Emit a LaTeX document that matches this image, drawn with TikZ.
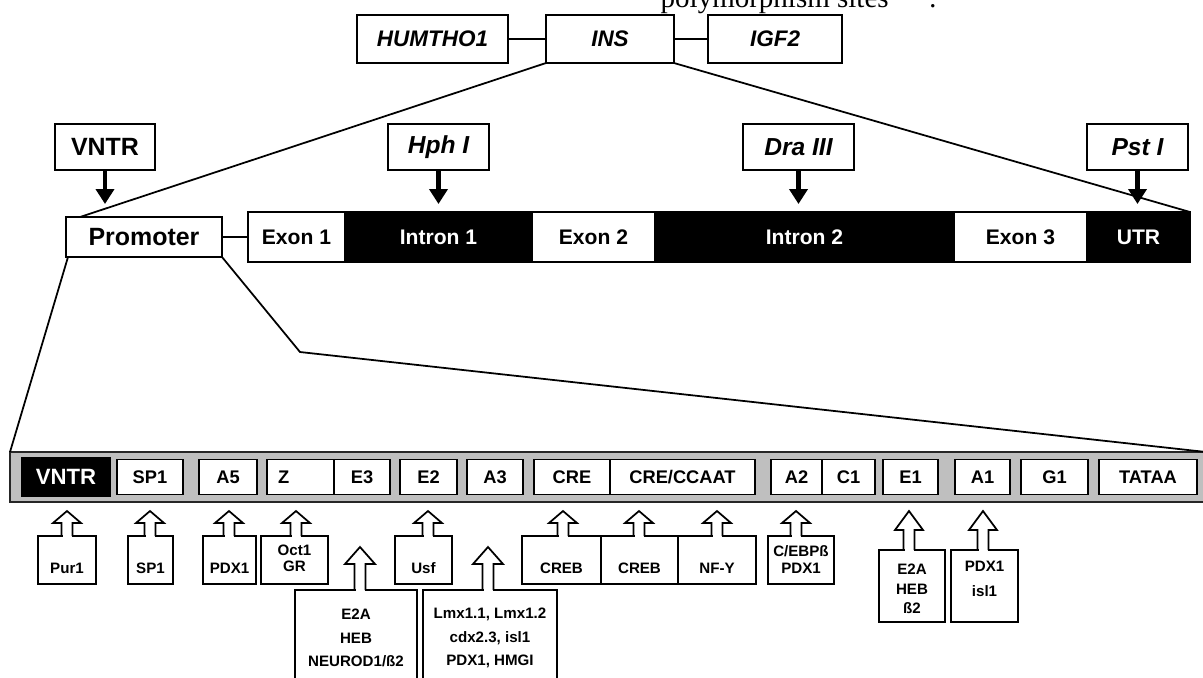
\documentclass[tikz,border=0pt]{standalone}
\usepackage{fontspec}
\setmainfont{Liberation Sans}
\newfontfamily\polyfont{Liberation Serif}
\usetikzlibrary{arrows.meta, positioning, calc}
\tikzset{
  gene box/.style={
    rectangle, draw=black, line width=0.5pt, fill=white,
    minimum height=0.48cm, inner sep=0pt, outer sep=0pt,
    font=\fontsize{6.4}{7}\selectfont\bfseries\itshape
  },
  site box/.style={
    gene box, minimum height=0.46cm,
    font=\fontsize{7.1}{8}\selectfont\bfseries
  },
  enzyme box/.style={
    site box, font=\fontsize{7}{8}\selectfont\bfseries\itshape
  },
  site arrow/.style={
    -{Triangle[width=1.8mm,length=1.5mm]}, line width=1.4pt
  },
  link/.style={
    line width=0.5pt, draw=black
  },
  tf line/.style={
    line width=0.5pt, draw=black, line join=miter
  }
}
% open block arrow on top of a factor box: box, x, shaft, head, head half width
\newcommand{\tfarrow}[5]{%
  \coordinate (aw) at (#2,0 |- #1.north);
  \fill[white] ([xshift=-0.045cm,yshift=-0.03cm]aw) rectangle ([xshift=0.045cm,yshift=0.03cm]aw);
  \draw[tf line] ([xshift=-0.055cm]aw) -- ++(0,#3) -- ++(0.055-#5,0) -- ++(#5,#4)
    -- ++(#5,-#4) -- ++(0.055-#5,0) -- ++(0,-#3);
}

\begin{document}
\begin{tikzpicture}[
  exon/.style={rectangle, draw=black, line width=0.5pt, fill=white,
    minimum height=0.50cm, inner sep=0pt, outer sep=0pt,
    font=\fontsize{6}{7}\selectfont\bfseries},
  intron/.style={exon, fill=black, text=white},
  el/.style={rectangle, draw=black, line width=0.5pt, fill=white,
    minimum height=0.35cm, inner sep=0pt, outer sep=0pt,
    font=\fontsize{5.2}{6}\selectfont\bfseries},
  tfbox/.style={rectangle, draw=black, line width=0.5pt, fill=white,
    inner sep=0pt, outer sep=0pt},
  tflab/.style={font=\fontsize{4.3}{4.6}\selectfont\bfseries, align=center, inner sep=0pt},
]
\useasboundingbox (0,0) rectangle (12.03,-6.77);

% ====== caption line (cut at the top) ======
\node[font=\polyfont\fontsize{8.25}{9}\selectfont, anchor=base west, inner sep=0pt] (poly) at (6.60,-0.07) {polymorphism sites};
\node[font=\polyfont\fontsize{8.25}{9}\selectfont, anchor=base, inner sep=0pt] (polycol) at (9.33,-0.07) {:};

% ====== chromosome 11p15.5 ======
\node[gene box, minimum width=1.51cm] (humtho) at (4.325,-0.39) {HUMTHO1};
\node[gene box, minimum width=1.28cm] (ins) at (6.10,-0.39) {INS};
\node[gene box, minimum width=1.34cm] (igf) at (7.75,-0.39) {IGF2};
\draw[link] (humtho) -- (ins);
\draw[link] (ins) -- (igf);

% ====== INS gene ======
\node[exon, minimum width=0.97cm, anchor=west] (ex1) at (2.48,-2.37) {Exon 1};
\node[intron, minimum width=1.87cm, anchor=west] (in1) at (ex1.east) {Intron 1};
\node[exon, minimum width=1.23cm, anchor=west] (ex2) at (in1.east) {Exon 2};
\node[intron, minimum width=2.99cm, anchor=west] (in2) at (ex2.east) {Intron 2};
\node[exon, minimum width=1.33cm, anchor=west] (ex3) at (in2.east) {Exon 3};
\node[intron, minimum width=1.03cm, anchor=west] (utr) at (ex3.east) {UTR};

\node[site box, minimum width=1.56cm, minimum height=0.40cm] (prom) at (1.44,-2.37) {Promoter};
\draw[link] (prom) -- (ex1);

% -- polymorphism sites --
\node[site box, minimum width=1.00cm] (vntrs) at (1.05,-1.47) {VNTR};
\node[enzyme box, minimum width=1.01cm] (hph) at (4.385,-1.47) {Hph I};
\node[enzyme box, minimum width=1.11cm] (dra) at (7.985,-1.47) {Dra III};
\node[enzyme box, minimum width=1.01cm] (pst) at (11.375,-1.47) {Pst I};
\draw[site arrow] (vntrs.south) -- ++(0,-0.34);
\draw[site arrow] (hph.south) -- ++(0,-0.34);
\draw[site arrow] (dra.south) -- ++(0,-0.34);
\draw[site arrow] (pst.south) -- ++(0,-0.34);

% -- zoom lines --
\draw[link] (ins.south west) -- ($(prom.north west)+(0.14,0)$);
\draw[link] (ins.south east) -- (utr.north east);

% ====== promoter region ======
\node[rectangle, draw=black!85, line width=0.6pt, fill=black!25, minimum width=11.96cm,
  minimum height=0.50cm, inner sep=0pt, outer sep=0pt] (pbar) at (6.08,-4.77) {};
\coordinate (knee) at (3.00,-3.52);
\draw[link] ($(prom.south west)+(0.02,0)$) -- (pbar.north west);
\draw[link] (prom.south east) -- (knee) -- (pbar.north east);

\node[el, fill=black, text=white, minimum width=0.88cm, minimum height=0.39cm,
  font=\fontsize{6.3}{7}\selectfont\bfseries] (bvntr) at (0.66,-4.77) {VNTR};
\node[el, minimum width=0.66cm] (bsp) at (1.50,-4.77) {SP1};
\node[el, minimum width=0.58cm] (ba5) at (2.28,-4.77) {A5};
\node[el, text width=0.45cm, inner xsep=0.11cm, align=left] (bz) at (3.005,-4.77) {Z};
\node[el, minimum width=0.56cm] (be3) at (3.62,-4.77) {E3};
\node[el, minimum width=0.57cm] (be2) at (4.285,-4.77) {E2};
\node[el, minimum width=0.56cm] (ba3) at (4.95,-4.77) {A3};
\node[el, minimum width=0.76cm] (bcre) at (5.72,-4.77) {CRE};
\node[el, minimum width=1.45cm] (bcca) at (6.825,-4.77) {CRE/CCAAT};
\node[el, minimum width=0.51cm] (ba2) at (7.965,-4.77) {A2};
\node[el, minimum width=0.53cm] (bc1) at (8.485,-4.77) {C1};
\node[el, minimum width=0.55cm] (be1) at (9.105,-4.77) {E1};
\node[el, minimum width=0.55cm] (ba1) at (9.825,-4.77) {A1};
\node[el, minimum width=0.67cm] (bg1) at (10.545,-4.77) {G1};
\node[el, minimum width=0.98cm] (btata) at (11.48,-4.77) {TATAA};

% ====== binding factors ======
\node[tfbox, minimum width=0.58cm, minimum height=0.48cm] (tfpur) at (0.67,-5.60) {};
\node[tfbox, minimum width=0.45cm, minimum height=0.48cm] (tfsp) at (1.505,-5.60) {};
\node[tfbox, minimum width=0.53cm, minimum height=0.48cm] (tfpdx) at (2.295,-5.60) {};
\node[tfbox, minimum width=0.67cm, minimum height=0.48cm] (tfoct) at (2.945,-5.60) {};
\node[tfbox, minimum width=0.57cm, minimum height=0.48cm] (tfusf) at (4.235,-5.60) {};
\node[tfbox, minimum width=0.79cm, minimum height=0.48cm] (tfcreba) at (5.615,-5.60) {};
\node[tfbox, minimum width=0.77cm, minimum height=0.48cm] (tfcrebb) at (6.395,-5.60) {};
\node[tfbox, minimum width=0.78cm, minimum height=0.48cm] (tfnfy) at (7.17,-5.60) {};
\node[tfbox, minimum width=0.66cm, minimum height=0.48cm] (tfcebp) at (8.01,-5.60) {};
\node[tfbox, minimum width=0.66cm, minimum height=0.72cm] (tfeone) at (9.12,-5.86) {};
\node[tfbox, minimum width=0.67cm, minimum height=0.72cm] (tfaone) at (9.845,-5.86) {};
\node[tfbox, minimum width=1.22cm, minimum height=1.05cm] (tfethree) at (3.56,-6.425) {};
\node[tfbox, minimum width=1.34cm, minimum height=1.05cm] (tfathree) at (4.90,-6.425) {};

\tfarrow{tfpur}{0.67}{0.13}{0.12}{0.14}
\tfarrow{tfsp}{1.50}{0.13}{0.12}{0.14}
\tfarrow{tfpdx}{2.29}{0.13}{0.12}{0.14}
\tfarrow{tfoct}{2.96}{0.13}{0.12}{0.14}
\tfarrow{tfusf}{4.28}{0.13}{0.12}{0.14}
\tfarrow{tfcreba}{5.63}{0.13}{0.12}{0.14}
\tfarrow{tfcrebb}{6.39}{0.13}{0.12}{0.14}
\tfarrow{tfnfy}{7.17}{0.13}{0.12}{0.14}
\tfarrow{tfcebp}{7.96}{0.13}{0.12}{0.14}
\tfarrow{tfeone}{9.09}{0.20}{0.19}{0.14}
\tfarrow{tfaone}{9.83}{0.20}{0.19}{0.14}
\tfarrow{tfethree}{3.60}{0.26}{0.17}{0.15}
\tfarrow{tfathree}{4.88}{0.26}{0.17}{0.15}

\node[tflab] (lpur) at (0.67,-5.68) {Pur1};
\node[tflab] (lsp) at (1.505,-5.68) {SP1};
\node[tflab] (lpdx) at (2.295,-5.68) {PDX1};
\node[tflab] (loct) at (2.945,-5.585) {Oct1\\GR};
\node[tflab] (lusf) at (4.235,-5.68) {Usf};
\node[tflab] (lcreba) at (5.615,-5.68) {CREB};
\node[tflab] (lcrebb) at (6.395,-5.68) {CREB};
\node[tflab] (lnfy) at (7.17,-5.68) {NF-Y};
\node[tflab, font=\fontsize{4.3}{4.8}\selectfont\bfseries] (lcebp) at (8.01,-5.595) {C/EBPß\\PDX1};
\node[tflab, font=\fontsize{4.3}{5.5}\selectfont\bfseries] (leone) at (9.12,-5.89) {E2A\\HEB\\ß2};
\node[tflab, font=\fontsize{4.3}{7.1}\selectfont\bfseries] (laone) at (9.845,-5.785) {PDX1\\isl1};
\node[tflab, font=\fontsize{4.3}{6.7}\selectfont\bfseries] (lethree) at (3.56,-6.38) {E2A\\HEB\\NEUROD1/ß2};
\node[tflab, font=\fontsize{4.3}{6.7}\selectfont\bfseries] (lathree) at (4.90,-6.38) {Lmx1.1, Lmx1.2\\cdx2.3, isl1\\PDX1, HMGI};

\end{tikzpicture}
\end{document}
